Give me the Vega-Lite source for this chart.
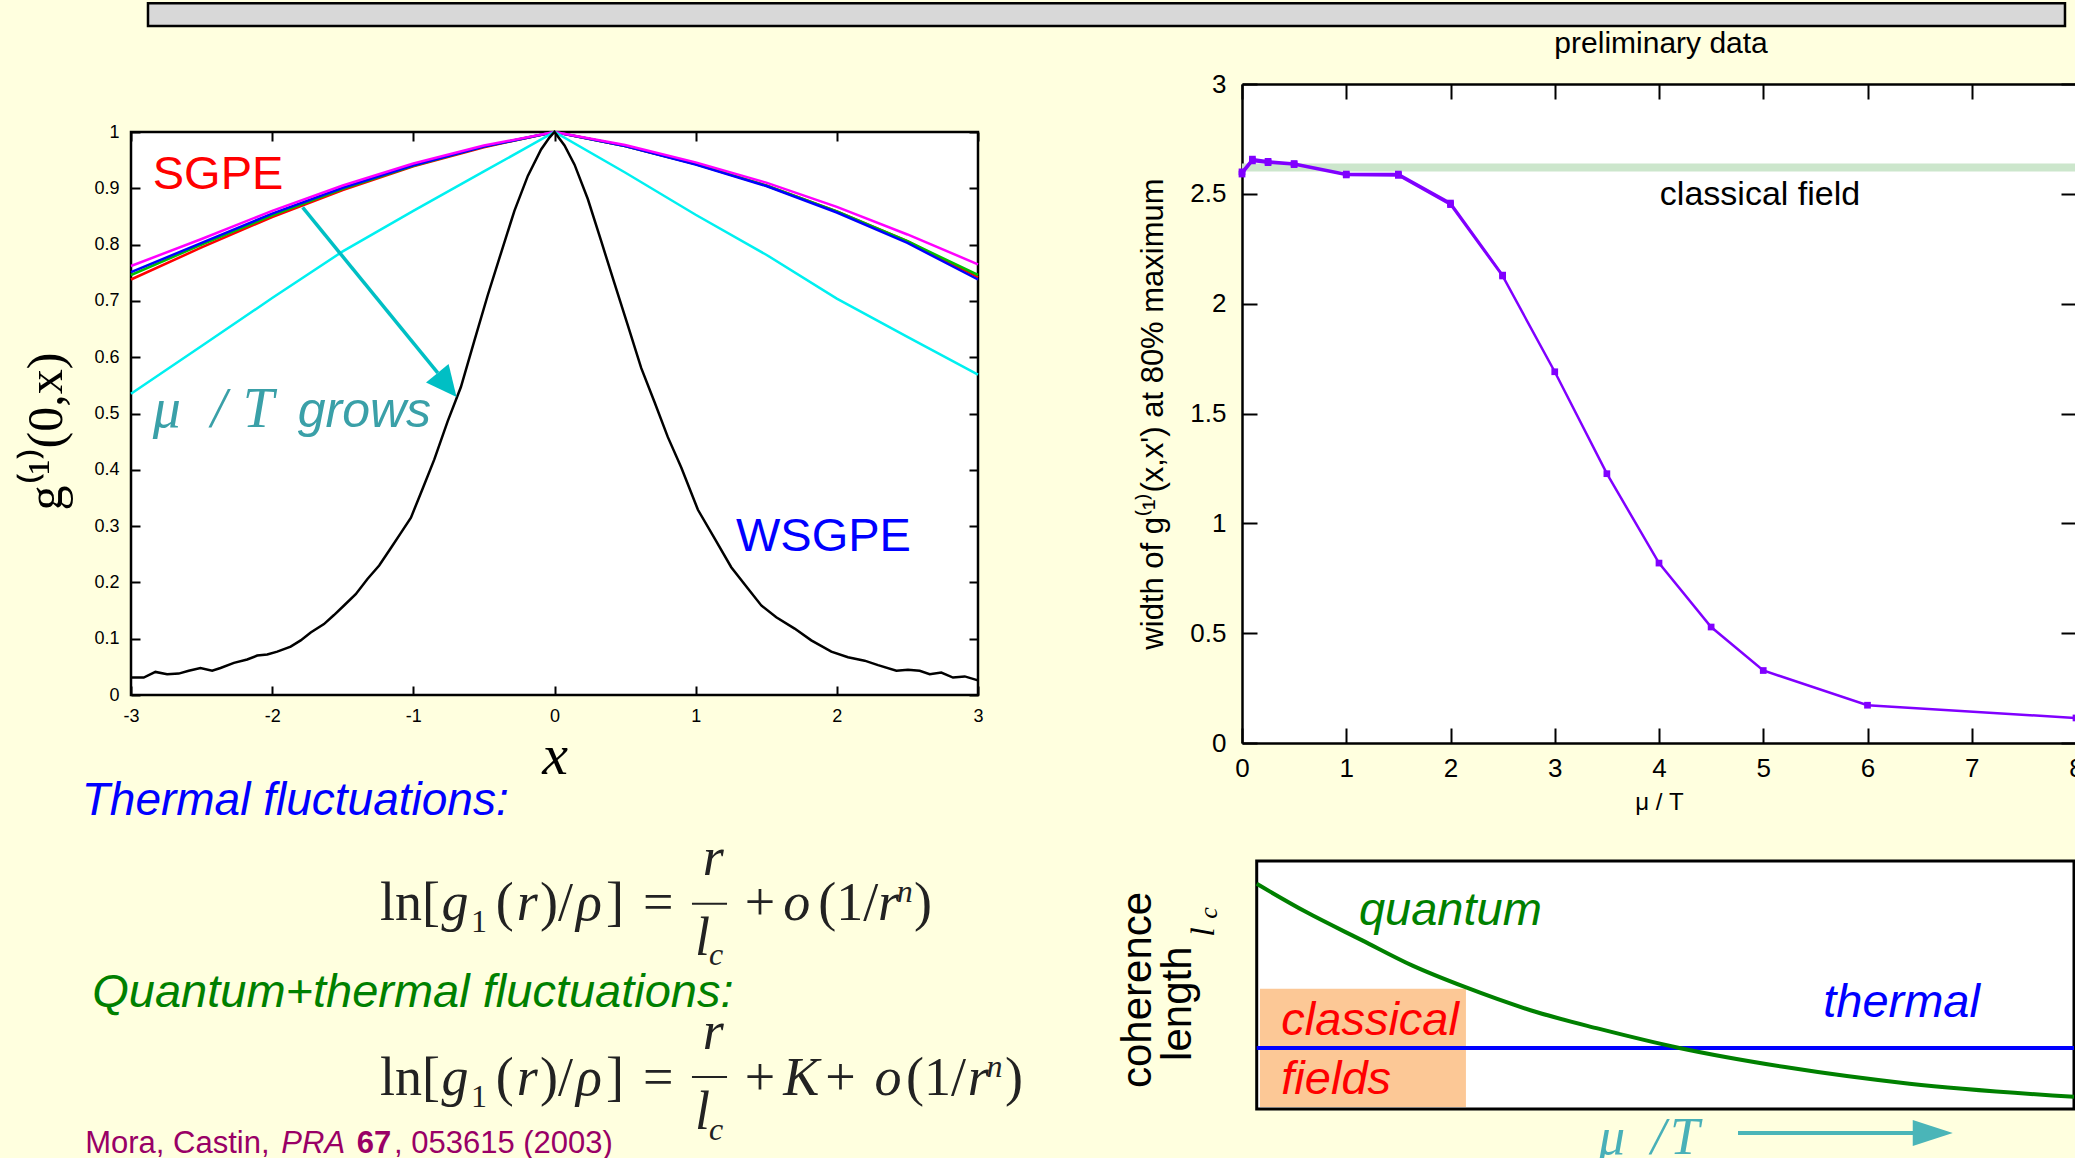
{
"$schema": "https://vega.github.io/schema/vega-lite/v6.json",
"background": "#ffffdf",
"padding": {"left": 20, "top": 0, "right": 0, "bottom": 0},
"columns": 2,
"spacing": {"row": 118, "column": 264},
"bounds": "flush",
"align": "each",
"center": {"row": true, "column": false},
"config": {
  "view": {"stroke": null},
  "axis": {"grid": false, "domainColor": "black", "tickColor": "black", "labelColor": "black", "titleColor": "black", "labelFont": "Liberation Sans", "titleFont": "Liberation Sans", "titleFontWeight": "normal", "tickWidth": 2, "domainWidth": 2.5, "labelFlush": false, "labelOverlap": false},
  "text": {"color": "black", "font": "Liberation Sans"}
},
"datasets": {
  "g1": [
    {"s":"red","x":-3,"g":0.738},{"s":"red","x":-2.5,"g":0.795},{"s":"red","x":-2,"g":0.849},{"s":"red","x":-1.5,"g":0.897},{"s":"red","x":-1,"g":0.939},{"s":"red","x":-0.5,"g":0.973},{"s":"red","x":0,"g":1},{"s":"red","x":0.5,"g":0.975},{"s":"red","x":1,"g":0.943},{"s":"red","x":1.5,"g":0.905},{"s":"red","x":2,"g":0.859},{"s":"red","x":2.5,"g":0.806},{"s":"red","x":3,"g":0.742},
    {"s":"green","x":-3,"g":0.746},{"s":"green","x":-2.5,"g":0.8},{"s":"green","x":-2,"g":0.852},{"s":"green","x":-1.5,"g":0.899},{"s":"green","x":-1,"g":0.94},{"s":"green","x":-0.5,"g":0.974},{"s":"green","x":0,"g":1},{"s":"green","x":0.5,"g":0.975},{"s":"green","x":1,"g":0.943},{"s":"green","x":1.5,"g":0.905},{"s":"green","x":2,"g":0.859},{"s":"green","x":2.5,"g":0.806},{"s":"green","x":3,"g":0.746},
    {"s":"blue","x":-3,"g":0.751},{"s":"blue","x":-2.5,"g":0.803},{"s":"blue","x":-2,"g":0.855},{"s":"blue","x":-1.5,"g":0.901},{"s":"blue","x":-1,"g":0.941},{"s":"blue","x":-0.5,"g":0.974},{"s":"blue","x":0,"g":1},{"s":"blue","x":0.5,"g":0.975},{"s":"blue","x":1,"g":0.942},{"s":"blue","x":1.5,"g":0.904},{"s":"blue","x":2,"g":0.857},{"s":"blue","x":2.5,"g":0.803},{"s":"blue","x":3,"g":0.738},
    {"s":"magenta","x":-3,"g":0.762},{"s":"magenta","x":-2.5,"g":0.81},{"s":"magenta","x":-2,"g":0.86},{"s":"magenta","x":-1.5,"g":0.905},{"s":"magenta","x":-1,"g":0.944},{"s":"magenta","x":-0.5,"g":0.976},{"s":"magenta","x":0,"g":1},{"s":"magenta","x":0.5,"g":0.977},{"s":"magenta","x":1,"g":0.946},{"s":"magenta","x":1.5,"g":0.91},{"s":"magenta","x":2,"g":0.867},{"s":"magenta","x":2.5,"g":0.818},{"s":"magenta","x":3,"g":0.765},
    {"s":"cyan","x":-3,"g":0.535},{"s":"cyan","x":-2.5,"g":0.62},{"s":"cyan","x":-2,"g":0.705},{"s":"cyan","x":-1.5,"g":0.788},{"s":"cyan","x":-1,"g":0.86},{"s":"cyan","x":-0.5,"g":0.93},{"s":"cyan","x":0,"g":1},{"s":"cyan","x":0.5,"g":0.928},{"s":"cyan","x":1,"g":0.853},{"s":"cyan","x":1.5,"g":0.782},{"s":"cyan","x":2,"g":0.704},{"s":"cyan","x":2.5,"g":0.636},{"s":"cyan","x":3,"g":0.569},
    {"s":"black","x":-3,"g":0.031},{"s":"black","x":-2.91,"g":0.031},{"s":"black","x":-2.827,"g":0.041},{"s":"black","x":-2.744,"g":0.037},{"s":"black","x":-2.662,"g":0.038},{"s":"black","x":-2.591,"g":0.043},{"s":"black","x":-2.508,"g":0.048},{"s":"black","x":-2.425,"g":0.043},{"s":"black","x":-2.366,"g":0.048},{"s":"black","x":-2.271,"g":0.057},{"s":"black","x":-2.177,"g":0.063},{"s":"black","x":-2.106,"g":0.07},{"s":"black","x":-2.035,"g":0.072},{"s":"black","x":-1.964,"g":0.077},{"s":"black","x":-1.869,"g":0.086},{"s":"black","x":-1.798,"g":0.097},{"s":"black","x":-1.727,"g":0.111},{"s":"black","x":-1.633,"g":0.126},{"s":"black","x":-1.562,"g":0.142},{"s":"black","x":-1.491,"g":0.159},{"s":"black","x":-1.408,"g":0.179},{"s":"black","x":-1.325,"g":0.206},{"s":"black","x":-1.242,"g":0.23},{"s":"black","x":-1.159,"g":0.261},{"s":"black","x":-1.088,"g":0.288},{"s":"black","x":-1.017,"g":0.315},{"s":"black","x":-0.935,"g":0.366},{"s":"black","x":-0.852,"g":0.418},{"s":"black","x":-0.757,"g":0.486},{"s":"black","x":-0.663,"g":0.547},{"s":"black","x":-0.568,"g":0.629},{"s":"black","x":-0.473,"g":0.71},{"s":"black","x":-0.379,"g":0.785},{"s":"black","x":-0.284,"g":0.86},{"s":"black","x":-0.189,"g":0.922},{"s":"black","x":-0.095,"g":0.969},{"s":"black","x":-0.036,"g":0.99},{"s":"black","x":0,"g":1},
    {"s":"black","x":0.071,"g":0.976},{"s":"black","x":0.142,"g":0.942},{"s":"black","x":0.236,"g":0.881},{"s":"black","x":0.331,"g":0.806},{"s":"black","x":0.425,"g":0.731},{"s":"black","x":0.52,"g":0.656},{"s":"black","x":0.614,"g":0.581},{"s":"black","x":0.709,"g":0.52},{"s":"black","x":0.803,"g":0.458},{"s":"black","x":0.898,"g":0.404},{"s":"black","x":1.016,"g":0.329},{"s":"black","x":1.134,"g":0.278},{"s":"black","x":1.252,"g":0.227},{"s":"black","x":1.37,"g":0.189},{"s":"black","x":1.465,"g":0.159},{"s":"black","x":1.571,"g":0.138},{"s":"black","x":1.701,"g":0.118},{"s":"black","x":1.819,"g":0.097},{"s":"black","x":1.961,"g":0.077},{"s":"black","x":2.079,"g":0.067},{"s":"black","x":2.197,"g":0.061},{"s":"black","x":2.292,"g":0.053},{"s":"black","x":2.422,"g":0.043},{"s":"black","x":2.504,"g":0.045},{"s":"black","x":2.587,"g":0.043},{"s":"black","x":2.658,"g":0.037},{"s":"black","x":2.74,"g":0.04},{"s":"black","x":2.823,"g":0.031},{"s":"black","x":2.906,"g":0.033},{"s":"black","x":3,"g":0.026}
  ],
  "width": [
    {"mu":0,"w":2.59},{"mu":0.1,"w":2.65},{"mu":0.25,"w":2.642},{"mu":0.5,"w":2.633},{"mu":1,"w":2.586},{"mu":1.5,"w":2.584},{"mu":2,"w":2.451},{"mu":2.5,"w":2.126},{"mu":3,"w":1.69},{"mu":3.5,"w":1.226},{"mu":4,"w":0.819},{"mu":4.5,"w":0.528},{"mu":5,"w":0.33},{"mu":6,"w":0.172},{"mu":8,"w":0.114}
  ],
  "width2": [
    {"mu":0,"w":2.6},{"mu":0.1,"w":2.658},{"mu":0.25,"w":2.648},{"mu":0.5,"w":2.638},{"mu":1,"w":2.59},{"mu":1.5,"w":2.59},{"mu":2,"w":2.458},{"mu":2.5,"w":2.13}
  ],
  "coh": [
    {"m":0,"lc":0.908},{"m":0.606,"lc":0.794},{"m":1.291,"lc":0.68},{"m":1.9,"lc":0.579},{"m":2.546,"lc":0.492},{"m":3.421,"lc":0.391},{"m":4.182,"lc":0.324},{"m":5.172,"lc":0.246},{"m":6.464,"lc":0.169},{"m":7.987,"lc":0.102},{"m":10,"lc":0.049}
  ]
},
"concat": [
{
  "width": 847, "height": 563,
  "data": {"values": [{}]},
  "view": {"fill": "white", "stroke": "black", "strokeWidth": 2.5},
  "resolve": {"axis": {"x": "independent", "y": "independent"}},
  "layer": [
    {"data": {"name": "g1"}, "transform": [{"filter": "datum.s === 'red'"}], "mark": {"type": "line", "color": "#ff0000", "strokeWidth": 2.5},
     "encoding": {
       "x": {"field": "x", "type": "quantitative", "scale": {"domain": [-3, 3], "nice": false, "zero": false},
             "axis": {"orient": "bottom", "values": [-3,-2,-1,0,1,2,3], "labelExpr": "'' + datum.value", "labelFontSize": 18, "labelPadding": 21, "tickSize": -9, "domain": false, "title": "x", "titleFont": "Liberation Serif", "titleFontStyle": "italic", "titleFontSize": 58, "titlePadding": 2}},
       "y": {"field": "g", "type": "quantitative", "scale": {"domain": [0, 1], "nice": false, "zero": false},
             "axis": {"orient": "left", "values": [0,0.1,0.2,0.3,0.4,0.5,0.6,0.7,0.8,0.9,1], "labelExpr": "'' + datum.value", "labelFontSize": 18, "labelPadding": 21, "tickSize": -9, "domain": false, "title": "g⁽¹⁾(0,x)", "titleFont": "Liberation Serif", "titleFontSize": 50, "titlePadding": 22, "titleY": 299}}}},
    {"data": {"name": "g1"}, "transform": [{"filter": "datum.s === 'green'"}], "mark": {"type": "line", "color": "#00c000", "strokeWidth": 2.5},
     "encoding": {
       "x": {"field": "x", "type": "quantitative", "axis": {"orient": "top", "values": [-3,-2,-1,0,1,2,3], "labels": false, "tickSize": -9, "domain": false, "title": null}},
       "y": {"field": "g", "type": "quantitative", "axis": {"orient": "right", "values": [0,0.1,0.2,0.3,0.4,0.5,0.6,0.7,0.8,0.9,1], "labels": false, "tickSize": -9, "domain": false, "title": null}}}},
    {"data": {"name": "g1"}, "transform": [{"filter": "datum.s === 'blue'"}], "mark": {"type": "line", "color": "#0000ff", "strokeWidth": 2.5},
     "encoding": {"x": {"field": "x", "type": "quantitative", "axis": null}, "y": {"field": "g", "type": "quantitative", "axis": null}}},
    {"data": {"name": "g1"}, "transform": [{"filter": "datum.s === 'magenta'"}], "mark": {"type": "line", "color": "#ff00ff", "strokeWidth": 2.5},
     "encoding": {"x": {"field": "x", "type": "quantitative", "axis": null}, "y": {"field": "g", "type": "quantitative", "axis": null}}},
    {"data": {"name": "g1"}, "transform": [{"filter": "datum.s === 'cyan'"}], "mark": {"type": "line", "color": "#00f0f0", "strokeWidth": 2.5},
     "encoding": {"x": {"field": "x", "type": "quantitative", "axis": null}, "y": {"field": "g", "type": "quantitative", "axis": null}}},
    {"data": {"name": "g1"}, "transform": [{"filter": "datum.s === 'black'"}], "mark": {"type": "line", "color": "#000000", "strokeWidth": 2.5},
     "encoding": {"x": {"field": "x", "type": "quantitative", "axis": null}, "y": {"field": "g", "type": "quantitative", "axis": null}}},
    {"mark": {"type": "rule", "color": "#00bfc4", "strokeWidth": 3.5},
     "encoding": {"x": {"datum": -1.784, "axis": null}, "y": {"datum": 0.866, "axis": null}, "x2": {"datum": -0.827}, "y2": {"datum": 0.572}}},
    {"mark": {"type": "point", "shape": "M0,-1L0.95,1L-0.95,1Z", "size": 936, "angle": 141, "filled": true, "color": "#00bfc4", "opacity": 1, "strokeWidth": 0},
     "encoding": {"x": {"datum": -0.762, "axis": null}, "y": {"datum": 0.5504, "axis": null}}},
    {"mark": {"type": "text", "text": "SGPE", "font": "Liberation Sans", "fontSize": 47, "color": "#ff0000", "align": "left", "baseline": "alphabetic"},
     "encoding": {"x": {"datum": -2.846, "axis": null}, "y": {"datum": 0.8988, "axis": null}}},
    {"mark": {"type": "text", "text": "μ", "font": "Liberation Serif", "fontStyle": "italic", "fontSize": 56, "color": "#3aa0a8", "align": "left", "baseline": "alphabetic"},
     "encoding": {"x": {"datum": -2.846, "axis": null}, "y": {"datum": 0.476, "axis": null}}},
    {"mark": {"type": "text", "text": "/", "font": "Liberation Serif", "fontStyle": "italic", "fontSize": 56, "color": "#3aa0a8", "align": "left", "baseline": "alphabetic"},
     "encoding": {"x": {"datum": -2.433, "axis": null}, "y": {"datum": 0.476, "axis": null}}},
    {"mark": {"type": "text", "text": "T", "font": "Liberation Serif", "fontStyle": "italic", "fontSize": 56, "color": "#3aa0a8", "align": "left", "baseline": "alphabetic"},
     "encoding": {"x": {"datum": -2.209, "axis": null}, "y": {"datum": 0.476, "axis": null}}},
    {"mark": {"type": "text", "text": "grows", "font": "Liberation Sans", "fontStyle": "italic", "fontSize": 50, "color": "#3aa0a8", "align": "left", "baseline": "alphabetic"},
     "encoding": {"x": {"datum": -1.819, "axis": null}, "y": {"datum": 0.476, "axis": null}}},
    {"mark": {"type": "text", "text": "WSGPE", "font": "Liberation Sans", "fontSize": 47, "color": "#0000ff", "align": "left", "baseline": "alphabetic"},
     "encoding": {"x": {"datum": 1.2857, "axis": null}, "y": {"datum": 0.2549, "axis": null}}},
    {"mark": {"type": "rect", "fill": "#d8d8d8", "stroke": "black", "strokeWidth": 2.5},
     "encoding": {"x": {"datum": -2.8796, "axis": null}, "x2": {"datum": 10.7}, "y": {"datum": 1.1883, "axis": null}, "y2": {"datum": 1.2287}}}
  ]
},
{
  "width": 834, "height": 659,
  "data": {"values": [{}]},
  "view": {"fill": "white", "stroke": null},
  "resolve": {"axis": {"x": "independent", "y": "independent"}},
  "layer": [
    {"mark": {"type": "rule", "color": "#cce6cc", "strokeWidth": 8},
     "encoding": {"x": {"datum": 0, "axis": null}, "x2": {"datum": 8}, "y": {"datum": 2.62, "axis": null}}},
    {"data": {"name": "width2"}, "mark": {"type": "line", "color": "#8000ff", "strokeWidth": 2.5, "point": {"shape": "square", "size": 45, "filled": true, "color": "#8000ff"}},
     "encoding": {
       "x": {"field": "mu", "type": "quantitative", "scale": {"domain": [0, 8], "nice": false, "zero": false}, "axis": {"orient": "top", "values": [0,1,2,3,4,5,6,7,8], "labels": false, "tickSize": -15, "title": null}},
       "y": {"field": "w", "type": "quantitative", "scale": {"domain": [0, 3], "nice": false, "zero": false}, "axis": {"orient": "right", "values": [0,0.5,1,1.5,2,2.5,3], "labels": false, "tickSize": -15, "domain": false, "title": null}}}},
    {"data": {"name": "width"}, "mark": {"type": "line", "color": "#8000ff", "strokeWidth": 2.5, "point": {"shape": "square", "size": 45, "filled": true, "color": "#8000ff"}},
     "encoding": {
       "x": {"field": "mu", "type": "quantitative", "scale": {"domain": [0, 8], "nice": false, "zero": false}, "axis": {"orient": "bottom", "values": [0,1,2,3,4,5,6,7,8], "labelFontSize": 26, "labelPadding": 27, "tickSize": -15, "title": "μ / T", "titleFontSize": 24, "titlePadding": 9}},
       "y": {"field": "w", "type": "quantitative", "scale": {"domain": [0, 3], "nice": false, "zero": false}, "axis": {"orient": "left", "values": [0,0.5,1,1.5,2,2.5,3], "labelExpr": "'' + datum.value", "labelFontSize": 26, "labelPadding": 31, "tickSize": -15, "title": "width of  g⁽¹⁾(x,x')  at 80% maximum", "titleFontSize": 31, "titlePadding": 20}}}},
    {"mark": {"type": "text", "text": "classical field", "font": "Liberation Sans", "fontSize": 34, "color": "black", "align": "center", "baseline": "alphabetic"},
     "encoding": {"x": {"datum": 4.969, "axis": null}, "y": {"datum": 2.449, "axis": null}}},
    {"mark": {"type": "text", "text": "preliminary data", "font": "Liberation Sans", "fontSize": 30, "color": "black", "align": "center", "baseline": "alphabetic"},
     "encoding": {"x": {"datum": 4.02, "axis": null}, "y": {"datum": 3.141, "axis": null}}}
  ]
},
{
  "width": 847, "height": 248,
  "data": {"values": [{}]},
  "layer": [
    {"mark": {"type": "text", "text": "Thermal fluctuations:", "font": "Liberation Sans", "fontStyle": "italic", "fontSize": 46, "color": "#0000ff", "align": "left", "baseline": "alphabetic"},
     "encoding": {"x": {"datum": -0.0582, "scale": {"domain": [0, 1], "nice": false, "zero": false}, "axis": null}, "y": {"datum": 1.184, "scale": {"domain": [0, 1], "nice": false, "zero": false}, "axis": null}}},
    {"mark": {"type": "text", "text": "Quantum+thermal fluctuations:", "font": "Liberation Sans", "fontStyle": "italic", "fontSize": 47, "color": "#008000", "align": "left", "baseline": "alphabetic"},
     "encoding": {"x": {"datum": -0.0458, "axis": null}, "y": {"datum": 0.411, "axis": null}}},
    {"mark": {"type": "text", "text": "Mora, Castin,", "font": "Liberation Sans", "fontSize": 31, "color": "#990066", "align": "left", "baseline": "alphabetic"},
     "encoding": {"x": {"datum": -0.0541, "axis": null}, "y": {"datum": -0.177, "axis": null}}},
    {"mark": {"type": "text", "text": "PRA", "font": "Liberation Sans", "fontStyle": "italic", "fontSize": 31, "color": "#990066", "align": "left", "baseline": "alphabetic"},
     "encoding": {"x": {"datum": 0.1775, "axis": null}, "y": {"datum": -0.177, "axis": null}}},
    {"mark": {"type": "text", "text": "67", "font": "Liberation Sans", "fontWeight": "bold", "fontSize": 31, "color": "#990066", "align": "left", "baseline": "alphabetic"},
     "encoding": {"x": {"datum": 0.2665, "axis": null}, "y": {"datum": -0.177, "axis": null}}},
    {"mark": {"type": "text", "text": ", 053615 (2003)", "font": "Liberation Sans", "fontSize": 31, "color": "#990066", "align": "left", "baseline": "alphabetic"},
     "encoding": {"x": {"datum": 0.3105, "axis": null}, "y": {"datum": -0.177, "axis": null}}},

    {"mark": {"type": "text", "text": "ln[", "font": "Liberation Serif", "fontSize": 54, "color": "#222222", "align": "left", "baseline": "alphabetic"},
     "encoding": {"x": {"datum": 0.294, "axis": null}, "y": {"datum": 0.763, "axis": null}}},
    {"mark": {"type": "text", "text": "g", "font": "Liberation Serif", "fontStyle": "italic", "fontSize": 54, "color": "#222222", "align": "left", "baseline": "alphabetic"},
     "encoding": {"x": {"datum": 0.3666, "axis": null}, "y": {"datum": 0.763, "axis": null}}},
    {"mark": {"type": "text", "text": "1", "font": "Liberation Serif", "fontSize": 32, "color": "#222222", "align": "left", "baseline": "alphabetic"},
     "encoding": {"x": {"datum": 0.4014, "axis": null}, "y": {"datum": 0.714, "axis": null}}},
    {"mark": {"type": "text", "text": "(", "font": "Liberation Serif", "fontSize": 54, "color": "#222222", "align": "left", "baseline": "alphabetic"},
     "encoding": {"x": {"datum": 0.4305, "axis": null}, "y": {"datum": 0.763, "axis": null}}},
    {"mark": {"type": "text", "text": "r", "font": "Liberation Serif", "fontStyle": "italic", "fontSize": 54, "color": "#222222", "align": "left", "baseline": "alphabetic"},
     "encoding": {"x": {"datum": 0.4553, "axis": null}, "y": {"datum": 0.763, "axis": null}}},
    {"mark": {"type": "text", "text": ")/", "font": "Liberation Serif", "fontSize": 54, "color": "#222222", "align": "left", "baseline": "alphabetic"},
     "encoding": {"x": {"datum": 0.4829, "axis": null}, "y": {"datum": 0.763, "axis": null}}},
    {"mark": {"type": "text", "text": "ρ", "font": "Liberation Serif", "fontStyle": "italic", "fontSize": 54, "color": "#222222", "align": "left", "baseline": "alphabetic"},
     "encoding": {"x": {"datum": 0.5254, "axis": null}, "y": {"datum": 0.763, "axis": null}}},
    {"mark": {"type": "text", "text": "]", "font": "Liberation Serif", "fontSize": 54, "color": "#222222", "align": "left", "baseline": "alphabetic"},
     "encoding": {"x": {"datum": 0.5608, "axis": null}, "y": {"datum": 0.763, "axis": null}}},
    {"mark": {"type": "text", "text": "=", "font": "Liberation Serif", "fontSize": 54, "color": "#222222", "align": "left", "baseline": "alphabetic"},
     "encoding": {"x": {"datum": 0.6044, "axis": null}, "y": {"datum": 0.763, "axis": null}}},
    {"mark": {"type": "text", "text": "r", "font": "Liberation Serif", "fontStyle": "italic", "fontSize": 54, "color": "#222222", "align": "left", "baseline": "alphabetic"},
     "encoding": {"x": {"datum": 0.6749, "axis": null}, "y": {"datum": 0.9435, "axis": null}}},
    {"mark": {"type": "rule", "color": "#222222", "strokeWidth": 2},
     "encoding": {"x": {"datum": 0.6623, "axis": null}, "x2": {"datum": 0.7037}, "y": {"datum": 0.828, "axis": null}}},
    {"mark": {"type": "text", "text": "l", "font": "Liberation Serif", "fontStyle": "italic", "fontSize": 54, "color": "#222222", "align": "left", "baseline": "alphabetic"},
     "encoding": {"x": {"datum": 0.6659, "axis": null}, "y": {"datum": 0.62, "axis": null}}},
    {"mark": {"type": "text", "text": "c", "font": "Liberation Serif", "fontStyle": "italic", "fontSize": 32, "color": "#222222", "align": "left", "baseline": "alphabetic"},
     "encoding": {"x": {"datum": 0.6824, "axis": null}, "y": {"datum": 0.581, "axis": null}}},
    {"mark": {"type": "text", "text": "+", "font": "Liberation Serif", "fontSize": 54, "color": "#222222", "align": "left", "baseline": "alphabetic"},
     "encoding": {"x": {"datum": 0.7245, "axis": null}, "y": {"datum": 0.763, "axis": null}}},
    {"mark": {"type": "text", "text": "o", "font": "Liberation Serif", "fontStyle": "italic", "fontSize": 54, "color": "#222222", "align": "left", "baseline": "alphabetic"},
     "encoding": {"x": {"datum": 0.77, "axis": null}, "y": {"datum": 0.763, "axis": null}}},
    {"mark": {"type": "text", "text": "(1/", "font": "Liberation Serif", "fontSize": 54, "color": "#222222", "align": "left", "baseline": "alphabetic"},
     "encoding": {"x": {"datum": 0.8115, "axis": null}, "y": {"datum": 0.763, "axis": null}}},
    {"mark": {"type": "text", "text": "r", "font": "Liberation Serif", "fontStyle": "italic", "fontSize": 54, "color": "#222222", "align": "left", "baseline": "alphabetic"},
     "encoding": {"x": {"datum": 0.8818, "axis": null}, "y": {"datum": 0.763, "axis": null}}},
    {"mark": {"type": "text", "text": "n", "font": "Liberation Serif", "fontStyle": "italic", "fontSize": 32, "color": "#222222", "align": "left", "baseline": "alphabetic"},
     "encoding": {"x": {"datum": 0.9042, "axis": null}, "y": {"datum": 0.835, "axis": null}}},
    {"mark": {"type": "text", "text": ")", "font": "Liberation Serif", "fontSize": 54, "color": "#222222", "align": "left", "baseline": "alphabetic"},
     "encoding": {"x": {"datum": 0.9244, "axis": null}, "y": {"datum": 0.763, "axis": null}}},

    {"mark": {"type": "text", "text": "ln[", "font": "Liberation Serif", "fontSize": 54, "color": "#222222", "align": "left", "baseline": "alphabetic"},
     "encoding": {"x": {"datum": 0.294, "axis": null}, "y": {"datum": 0.055, "axis": null}}},
    {"mark": {"type": "text", "text": "g", "font": "Liberation Serif", "fontStyle": "italic", "fontSize": 54, "color": "#222222", "align": "left", "baseline": "alphabetic"},
     "encoding": {"x": {"datum": 0.3666, "axis": null}, "y": {"datum": 0.055, "axis": null}}},
    {"mark": {"type": "text", "text": "1", "font": "Liberation Serif", "fontSize": 32, "color": "#222222", "align": "left", "baseline": "alphabetic"},
     "encoding": {"x": {"datum": 0.4014, "axis": null}, "y": {"datum": 0.008, "axis": null}}},
    {"mark": {"type": "text", "text": "(", "font": "Liberation Serif", "fontSize": 54, "color": "#222222", "align": "left", "baseline": "alphabetic"},
     "encoding": {"x": {"datum": 0.4305, "axis": null}, "y": {"datum": 0.055, "axis": null}}},
    {"mark": {"type": "text", "text": "r", "font": "Liberation Serif", "fontStyle": "italic", "fontSize": 54, "color": "#222222", "align": "left", "baseline": "alphabetic"},
     "encoding": {"x": {"datum": 0.4553, "axis": null}, "y": {"datum": 0.055, "axis": null}}},
    {"mark": {"type": "text", "text": ")/", "font": "Liberation Serif", "fontSize": 54, "color": "#222222", "align": "left", "baseline": "alphabetic"},
     "encoding": {"x": {"datum": 0.4829, "axis": null}, "y": {"datum": 0.055, "axis": null}}},
    {"mark": {"type": "text", "text": "ρ", "font": "Liberation Serif", "fontStyle": "italic", "fontSize": 54, "color": "#222222", "align": "left", "baseline": "alphabetic"},
     "encoding": {"x": {"datum": 0.5254, "axis": null}, "y": {"datum": 0.055, "axis": null}}},
    {"mark": {"type": "text", "text": "]", "font": "Liberation Serif", "fontSize": 54, "color": "#222222", "align": "left", "baseline": "alphabetic"},
     "encoding": {"x": {"datum": 0.5608, "axis": null}, "y": {"datum": 0.055, "axis": null}}},
    {"mark": {"type": "text", "text": "=", "font": "Liberation Serif", "fontSize": 54, "color": "#222222", "align": "left", "baseline": "alphabetic"},
     "encoding": {"x": {"datum": 0.6044, "axis": null}, "y": {"datum": 0.055, "axis": null}}},
    {"mark": {"type": "text", "text": "r", "font": "Liberation Serif", "fontStyle": "italic", "fontSize": 54, "color": "#222222", "align": "left", "baseline": "alphabetic"},
     "encoding": {"x": {"datum": 0.6749, "axis": null}, "y": {"datum": 0.243, "axis": null}}},
    {"mark": {"type": "rule", "color": "#222222", "strokeWidth": 2},
     "encoding": {"x": {"datum": 0.6623, "axis": null}, "x2": {"datum": 0.7037}, "y": {"datum": 0.129, "axis": null}}},
    {"mark": {"type": "text", "text": "l", "font": "Liberation Serif", "fontStyle": "italic", "fontSize": 54, "color": "#222222", "align": "left", "baseline": "alphabetic"},
     "encoding": {"x": {"datum": 0.6659, "axis": null}, "y": {"datum": -0.079, "axis": null}}},
    {"mark": {"type": "text", "text": "c", "font": "Liberation Serif", "fontStyle": "italic", "fontSize": 32, "color": "#222222", "align": "left", "baseline": "alphabetic"},
     "encoding": {"x": {"datum": 0.6824, "axis": null}, "y": {"datum": -0.125, "axis": null}}},
    {"mark": {"type": "text", "text": "+", "font": "Liberation Serif", "fontSize": 54, "color": "#222222", "align": "left", "baseline": "alphabetic"},
     "encoding": {"x": {"datum": 0.7245, "axis": null}, "y": {"datum": 0.055, "axis": null}}},
    {"mark": {"type": "text", "text": "K", "font": "Liberation Serif", "fontStyle": "italic", "fontSize": 54, "color": "#222222", "align": "left", "baseline": "alphabetic"},
     "encoding": {"x": {"datum": 0.77, "axis": null}, "y": {"datum": 0.055, "axis": null}}},
    {"mark": {"type": "text", "text": "+", "font": "Liberation Serif", "fontSize": 54, "color": "#222222", "align": "left", "baseline": "alphabetic"},
     "encoding": {"x": {"datum": 0.8197, "axis": null}, "y": {"datum": 0.055, "axis": null}}},
    {"mark": {"type": "text", "text": "o", "font": "Liberation Serif", "fontStyle": "italic", "fontSize": 54, "color": "#222222", "align": "left", "baseline": "alphabetic"},
     "encoding": {"x": {"datum": 0.8777, "axis": null}, "y": {"datum": 0.055, "axis": null}}},
    {"mark": {"type": "text", "text": "(1/", "font": "Liberation Serif", "fontSize": 54, "color": "#222222", "align": "left", "baseline": "alphabetic"},
     "encoding": {"x": {"datum": 0.915, "axis": null}, "y": {"datum": 0.055, "axis": null}}},
    {"mark": {"type": "text", "text": "r", "font": "Liberation Serif", "fontStyle": "italic", "fontSize": 54, "color": "#222222", "align": "left", "baseline": "alphabetic"},
     "encoding": {"x": {"datum": 0.9878, "axis": null}, "y": {"datum": 0.055, "axis": null}}},
    {"mark": {"type": "text", "text": "n", "font": "Liberation Serif", "fontStyle": "italic", "fontSize": 32, "color": "#222222", "align": "left", "baseline": "alphabetic"},
     "encoding": {"x": {"datum": 1.0101, "axis": null}, "y": {"datum": 0.129, "axis": null}}},
    {"mark": {"type": "text", "text": ")", "font": "Liberation Serif", "fontSize": 54, "color": "#222222", "align": "left", "baseline": "alphabetic"},
     "encoding": {"x": {"datum": 1.0319, "axis": null}, "y": {"datum": 0.055, "axis": null}}}
  ]
},
{
  "width": 832, "height": 248,
  "data": {"values": [{}]},
  "layer": [
    {"mark": {"type": "rect", "fill": "white", "stroke": "black", "strokeWidth": 3},
     "encoding": {"x": {"datum": 0, "scale": {"domain": [-0.18, 10], "nice": false, "zero": false}, "axis": null}, "x2": {"datum": 10}, "y": {"datum": 0, "scale": {"domain": [0, 1], "nice": false, "zero": false}, "axis": null}, "y2": {"datum": 1}}},
    {"mark": {"type": "rect", "fill": "#fcc896"},
     "encoding": {"x": {"datum": 0.04, "axis": null}, "x2": {"datum": 2.56}, "y": {"datum": 0.008, "axis": null}, "y2": {"datum": 0.485}}},
    {"mark": {"type": "rule", "color": "#0000ff", "strokeWidth": 4},
     "encoding": {"x": {"datum": 0, "axis": null}, "x2": {"datum": 10}, "y": {"datum": 0.246, "axis": null}}},
    {"data": {"name": "coh"}, "mark": {"type": "line", "color": "#008000", "strokeWidth": 4, "interpolate": "monotone"},
     "encoding": {"x": {"field": "m", "type": "quantitative", "axis": null}, "y": {"field": "lc", "type": "quantitative", "axis": null}}},
    {"mark": {"type": "text", "text": "quantum", "font": "Liberation Sans", "fontStyle": "italic", "fontSize": 47, "color": "#008000", "align": "center", "baseline": "alphabetic"},
     "encoding": {"x": {"datum": 2.37, "axis": null}, "y": {"datum": 0.742, "axis": null}}},
    {"mark": {"type": "text", "text": "thermal", "font": "Liberation Sans", "fontStyle": "italic", "fontSize": 47, "color": "#0000ff", "align": "center", "baseline": "alphabetic"},
     "encoding": {"x": {"datum": 7.89, "axis": null}, "y": {"datum": 0.371, "axis": null}}},
    {"mark": {"type": "text", "text": "classical", "font": "Liberation Sans", "fontStyle": "italic", "fontSize": 47, "color": "#ff0000", "align": "left", "baseline": "alphabetic"},
     "encoding": {"x": {"datum": 0.301, "axis": null}, "y": {"datum": 0.297, "axis": null}}},
    {"mark": {"type": "text", "text": "fields", "font": "Liberation Sans", "fontStyle": "italic", "fontSize": 47, "color": "#ff0000", "align": "left", "baseline": "alphabetic"},
     "encoding": {"x": {"datum": 0.301, "axis": null}, "y": {"datum": 0.062, "axis": null}}},
    {"mark": {"type": "text", "text": "coherence", "font": "Liberation Sans", "fontSize": 42, "color": "black", "align": "center", "baseline": "alphabetic", "angle": 270},
     "encoding": {"x": {"datum": -1.293, "axis": null}, "y": {"datum": 0.48, "axis": null}}},
    {"mark": {"type": "text", "text": "length", "font": "Liberation Sans", "fontSize": 42, "color": "black", "align": "center", "baseline": "alphabetic", "angle": 270},
     "encoding": {"x": {"datum": -0.8, "axis": null}, "y": {"datum": 0.4246, "axis": null}}},
    {"mark": {"type": "text", "text": "l", "font": "Liberation Serif", "fontStyle": "italic", "fontSize": 34, "color": "black", "align": "center", "baseline": "alphabetic", "angle": 270},
     "encoding": {"x": {"datum": -0.52, "axis": null}, "y": {"datum": 0.714, "axis": null}}},
    {"mark": {"type": "text", "text": "c", "font": "Liberation Serif", "fontStyle": "italic", "fontSize": 26, "color": "black", "align": "center", "baseline": "alphabetic", "angle": 270},
     "encoding": {"x": {"datum": -0.49, "axis": null}, "y": {"datum": 0.79, "axis": null}}},
    {"mark": {"type": "text", "text": "μ", "font": "Liberation Serif", "fontStyle": "italic", "fontSize": 53, "color": "#48b0b8", "align": "left", "baseline": "alphabetic"},
     "encoding": {"x": {"datum": 4.182, "axis": null}, "y": {"datum": -0.181, "axis": null}}},
    {"mark": {"type": "text", "text": "/", "font": "Liberation Serif", "fontStyle": "italic", "fontSize": 53, "color": "#48b0b8", "align": "left", "baseline": "alphabetic"},
     "encoding": {"x": {"datum": 4.824, "axis": null}, "y": {"datum": -0.181, "axis": null}}},
    {"mark": {"type": "text", "text": "T", "font": "Liberation Serif", "fontStyle": "italic", "fontSize": 53, "color": "#48b0b8", "align": "left", "baseline": "alphabetic"},
     "encoding": {"x": {"datum": 5.057, "axis": null}, "y": {"datum": -0.181, "axis": null}}},
    {"mark": {"type": "rule", "color": "#4ab5b8", "strokeWidth": 4},
     "encoding": {"x": {"datum": 5.889, "axis": null}, "x2": {"datum": 8.03}, "y": {"datum": -0.0968, "axis": null}}},
    {"mark": {"type": "point", "shape": "M-1,-0.65L1,0L-1,0.65Z", "size": 1600, "filled": true, "color": "#4ab5b8", "opacity": 1, "strokeWidth": 0},
     "encoding": {"x": {"datum": 8.272, "axis": null}, "y": {"datum": -0.0968, "axis": null}}}
  ]
}
]
}
